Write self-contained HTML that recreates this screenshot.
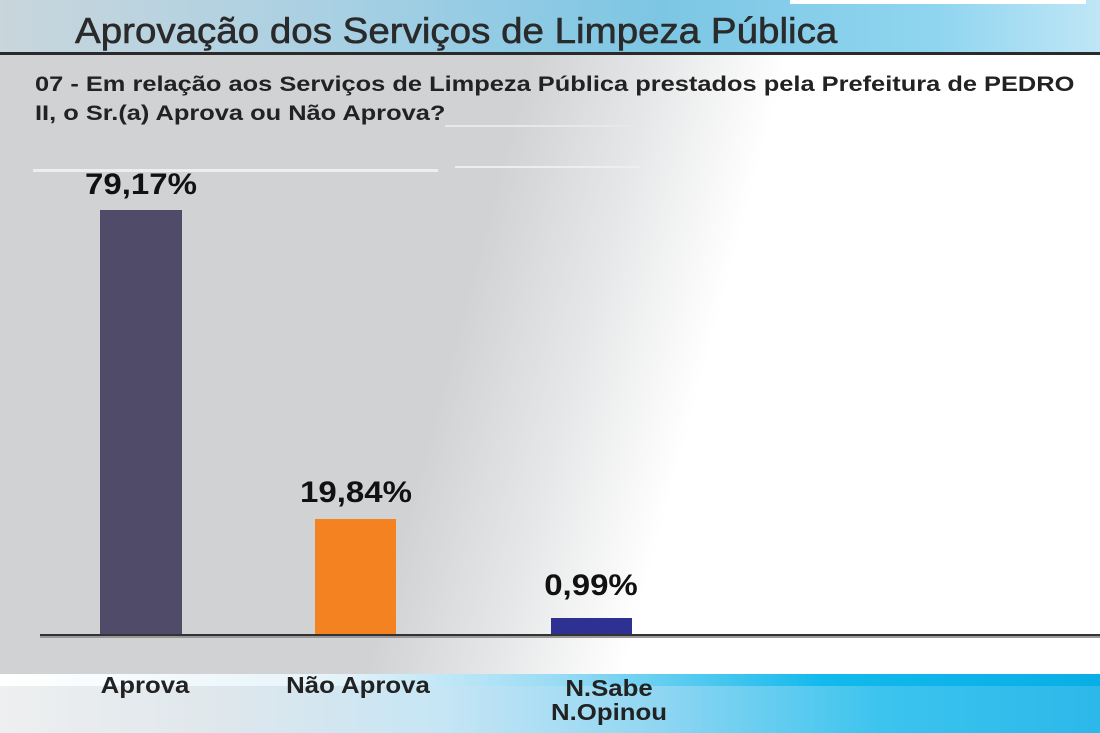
<!DOCTYPE html>
<html><head><style>
body{margin:0;width:1100px;height:733px;overflow:hidden;position:relative;font-family:"Liberation Sans",sans-serif;background:#fff}
.abs{position:absolute}
.t{white-space:nowrap;transform-origin:left top;font-weight:bold;color:#222}
.lbl{position:absolute;font-weight:bold;font-size:23px;color:#222;text-align:center;width:200px;line-height:24px;transform:scaleX(1.12)}
.val{position:absolute;font-weight:bold;font-size:30px;color:#111;text-align:center;width:200px;transform:scaleX(1.1)}
</style></head><body>
<div class="abs" style="left:0;top:0;width:1100px;height:733px;background:linear-gradient(105deg,#d1d2d4 0%,#d1d2d4 42%,#e6e7e8 52%,#fff 62%,#fff 100%)"></div>
<div class="abs" style="left:0;top:0;width:1100px;height:52px;background:linear-gradient(90deg,#c9d6dc 0%,#a9d0e3 30%,#7cc6e4 60%,#8fd5f0 85%,#bfe6f6 100%)"></div>
<div class="abs" style="left:790px;top:0;width:296px;height:4px;background:#fff"></div>
<div class="abs" style="left:0;top:52px;width:1100px;height:3px;background:#2a2a2a"></div>
<div class="abs t" style="left:75px;top:10px;font-size:36px;font-weight:normal;color:#2a2a2a;transform:scaleX(1.07);-webkit-text-stroke:0.6px #2a2a2a">Aprovação dos Serviços de Limpeza Pública</div>
<div class="abs t" style="left:35px;top:70px;font-size:21px;line-height:29px;transform:scaleX(1.21)">07 - Em relação aos Serviços de Limpeza Pública prestados pela Prefeitura de PEDRO<br>II, o Sr.(a) Aprova ou Não Aprova?</div>
<div class="abs" style="left:445px;top:125px;width:185px;height:2px;background:#e8e8e8"></div>
<div class="abs" style="left:33px;top:169px;width:405px;height:3px;background:#eee"></div>
<div class="abs" style="left:455px;top:166px;width:185px;height:2px;background:#eee"></div>
<div class="abs" style="left:100px;top:210px;width:82px;height:426px;background:#4f4b68"></div>
<div class="abs" style="left:315px;top:519px;width:81px;height:117px;background:#f58220"></div>
<div class="abs" style="left:551px;top:618px;width:81px;height:18px;background:#2e3192"></div>
<div class="abs" style="left:40px;top:634px;width:1060px;height:2px;background:#333"></div>
<div class="abs" style="left:40px;top:636px;width:1060px;height:2px;background:#999"></div>
<div class="val" style="left:41px;top:168px">79,17%</div>
<div class="val" style="left:256px;top:476px">19,84%</div>
<div class="val" style="left:491px;top:569px">0,99%</div>
<div class="abs" style="left:0;top:674px;width:1100px;height:59px;background:linear-gradient(90deg,#eeeff0 0%,#dfe7ec 20%,#c6e6f5 40%,#8fd6f2 60%,#3cc4ee 80%,#2cb8ea 100%)"></div>
<div class="abs" style="left:0;top:674px;width:1100px;height:12px;background:linear-gradient(90deg,#fff 0%,#e6f4fa 30%,#9cdcf4 50%,#11b9ec 75%,#0aaee6 100%)"></div>
<div class="lbl" style="left:45px;top:673px">Aprova</div>
<div class="lbl" style="left:258px;top:673px">Não Aprova</div>
<div class="lbl" style="left:509px;top:676px">N.Sabe<br>N.Opinou</div>
</body></html>
